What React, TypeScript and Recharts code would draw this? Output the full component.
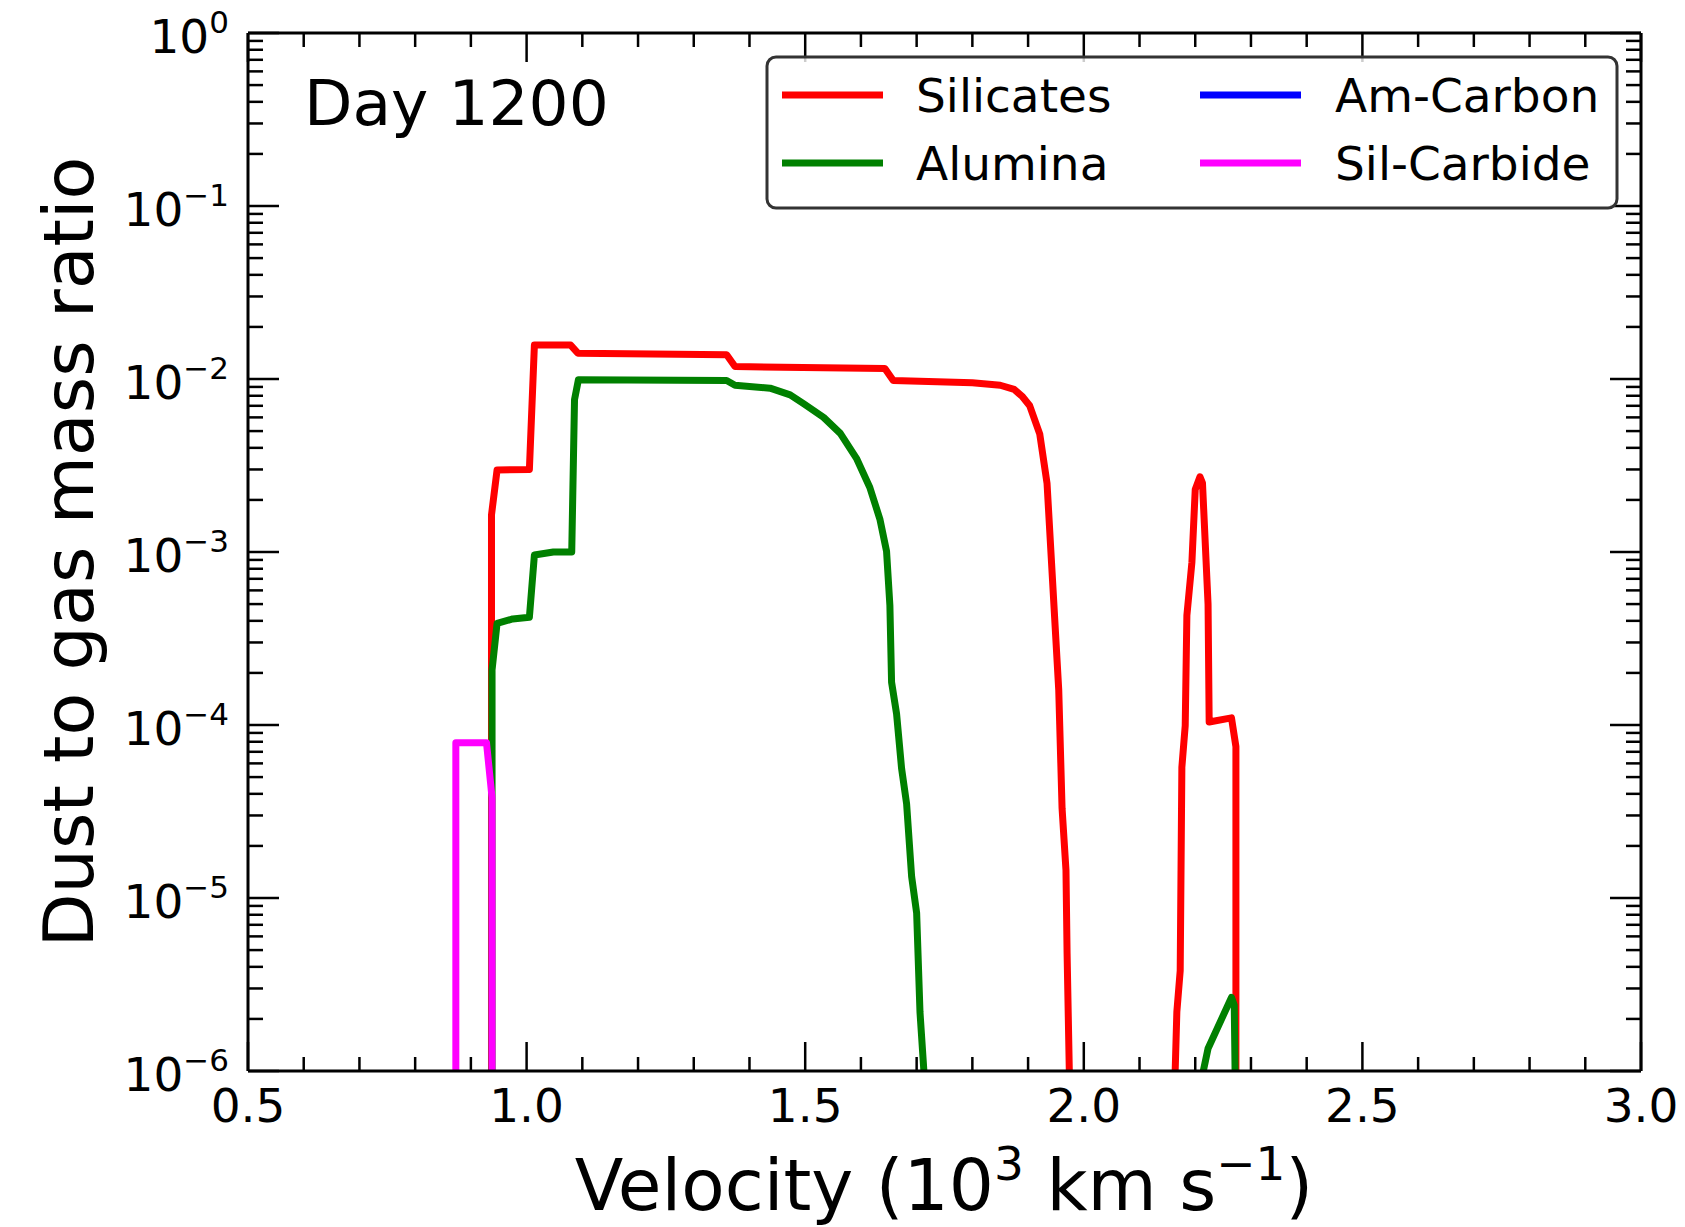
import React from "react";
import { LineChart, Line, XAxis, YAxis } from "recharts";

type Pt = { v: number; d: number | null };

const pts = (rows: [number, number | null][]): Pt[] => rows.map(([v, d]) => ({ v, d }));

// velocity (10^3 km/s) vs dust-to-gas mass ratio
const silicates = pts([
  [0.937, 1e-6], [0.937, 1.64e-3], [0.947, 2.98e-3], [1.005, 3.0e-3], [1.014, 1.57e-2],
  [1.079, 1.57e-2], [1.092, 1.41e-2], [1.359, 1.38e-2], [1.374, 1.18e-2], [1.643, 1.15e-2],
  [1.658, 9.8e-3], [1.8, 9.5e-3], [1.85, 9.2e-3], [1.875, 8.7e-3], [1.89, 7.9e-3],
  [1.903, 7.0e-3], [1.921, 4.8e-3], [1.934, 2.5e-3], [1.955, 1.6e-4],
  [1.961, 3.3e-5], [1.968, 1.45e-5], [1.97, 4.8e-6], [1.974, 1e-6],
  [2.07, null],
  [2.164, 1e-6], [2.167, 2.2e-6], [2.173, 3.8e-6], [2.176, 5.7e-5], [2.182, 9.9e-5],
  [2.185, 4.3e-4], [2.194, 8.7e-4], [2.2, 2.3e-3], [2.2085, 2.72e-3], [2.213, 2.5e-3],
  [2.223, 5.0e-4], [2.225, 1.04e-4], [2.265, 1.1e-4], [2.273, 7.5e-5], [2.273, 1e-6],
]);

const alumina = pts([
  [0.938, 1e-6], [0.938, 2.08e-4], [0.947, 3.87e-4], [0.975, 4.1e-4], [1.005, 4.2e-4],
  [1.014, 9.6e-4], [1.048, 1.0e-3], [1.081, 1.0e-3], [1.086, 7.6e-3], [1.093, 9.9e-3],
  [1.359, 9.8e-3], [1.374, 9.2e-3], [1.437, 8.85e-3], [1.473, 8.1e-3], [1.497, 7.2e-3],
  [1.533, 6.0e-3], [1.563, 4.85e-3], [1.592, 3.48e-3], [1.616, 2.36e-3], [1.634, 1.55e-3],
  [1.646, 1.01e-3], [1.652, 4.9e-4], [1.655, 1.77e-4], [1.664, 1.16e-4], [1.673, 5.6e-5],
  [1.682, 3.5e-5], [1.691, 1.33e-5], [1.7, 8.2e-6], [1.706, 2.19e-6], [1.713, 1e-6],
  [2.0, null],
  [2.2145, 1e-6], [2.223, 1.35e-6], [2.265, 2.66e-6], [2.27, 2.4e-6], [2.2715, 1e-6],
]);

const amCarbon: Pt[] = [];

const silCarbide = pts([
  [0.873, 1e-6], [0.873, 7.9e-5], [0.928, 7.9e-5], [0.938, 3.8e-5], [0.938, 1e-6],
]);

const series = [
  { name: "Silicates", color: "#ff0000", data: silicates },
  { name: "Alumina", color: "#008000", data: alumina },
  { name: "Am-Carbon", color: "#0000ff", data: amCarbon },
  { name: "Sil-Carbide", color: "#ff00ff", data: silCarbide },
];

const xMajorTicks = [0.5, 1.0, 1.5, 2.0, 2.5, 3.0];
const xMinorTicks = [
  0.6, 0.7, 0.8, 0.9, 1.1, 1.2, 1.3, 1.4, 1.6, 1.7, 1.8, 1.9,
  2.1, 2.2, 2.3, 2.4, 2.6, 2.7, 2.8, 2.9,
];
const yMajorTicks = [1e-6, 1e-5, 1e-4, 1e-3, 1e-2, 1e-1, 1];
const yMinorSteps = [2, 3, 4, 5, 6, 7, 8, 9];
const yMinorTicks = yMajorTicks.slice(0, -1).flatMap((b) => yMinorSteps.map((m) => b * m));

const xTicks = [...xMajorTicks, ...xMinorTicks].sort((a, b) => a - b);
const yTicks = [...yMajorTicks, ...yMinorTicks].sort((a, b) => a - b);

const FONT = "'DejaVu Sans', sans-serif";
const W = 1685;
const H = 1227;
const LW = 7;

const isMajorX = (v: number) => xMajorTicks.some((t) => Math.abs(t - v) < 1e-9);
const isMajorY = (v: number) => yMajorTicks.some((t) => Math.abs(t - v) / t < 1e-6);

// ticks point into the plot, like matplotlib direction="in"
const XTick = (props: any) => {
  const { x, y, payload, side } = props;
  const major = isMajorX(payload.value);
  const len = major ? 29 : 14;
  const dir = side === "top" ? 1 : -1;
  return (
    <g>
      <line x1={x} x2={x} y1={y} y2={y + dir * len} stroke="#000" strokeWidth={2.5} />
      {side === "bottom" && major && (
        <text x={x} y={y + 51} textAnchor="middle" fontSize={47} fontFamily={FONT} fill="#000">
          {payload.value.toFixed(1)}
        </text>
      )}
    </g>
  );
};

const YTick = (props: any) => {
  const { x, y, payload, side } = props;
  const major = isMajorY(payload.value);
  const len = major ? 31 : 15;
  const dir = side === "right" ? -1 : 1;
  const exp = Math.round(Math.log10(payload.value));
  return (
    <g>
      <line x1={x} x2={x + dir * len} y1={y} y2={y} stroke="#000" strokeWidth={2.5} />
      {side === "left" && major && (
        <text x={x - 19} y={y + 20} textAnchor="end" fontSize={47} fontFamily={FONT} fill="#000">
          <tspan>10</tspan>
          <tspan dy={-20} fontSize={31}>
            {exp < 0 ? "\u2212" + Math.abs(exp) : String(exp)}
          </tspan>
        </text>
      )}
    </g>
  );
};

export default function App() {
  return (
    <div style={{ position: "absolute", left: 0, top: 0, width: W, height: H, background: "#fff" }}>
      <LineChart width={W} height={H} margin={{ top: 23, right: 34, bottom: 116, left: 208 }}>
        <XAxis
          xAxisId="b"
          type="number"
          dataKey="v"
          domain={[0.5, 3]}
          allowDataOverflow
          ticks={xTicks}
          interval={0}
          height={40}
          tickSize={0}
          tickMargin={0}
          tickLine={false}
          axisLine={{ stroke: "#000", strokeWidth: 3 }}
          tick={<XTick side="bottom" />}
        />
        <XAxis
          xAxisId="t"
          orientation="top"
          type="number"
          dataKey="v"
          domain={[0.5, 3]}
          allowDataOverflow
          ticks={xTicks}
          interval={0}
          height={10}
          tickSize={0}
          tickMargin={0}
          tickLine={false}
          axisLine={{ stroke: "#000", strokeWidth: 3 }}
          tick={<XTick side="top" />}
        />
        <YAxis
          yAxisId="l"
          scale="log"
          type="number"
          domain={[1e-6, 1]}
          allowDataOverflow
          ticks={yTicks}
          interval={0}
          width={40}
          tickSize={0}
          tickMargin={0}
          tickLine={false}
          axisLine={{ stroke: "#000", strokeWidth: 3 }}
          tick={<YTick side="left" />}
        />
        <YAxis
          yAxisId="r"
          orientation="right"
          scale="log"
          type="number"
          domain={[1e-6, 1]}
          allowDataOverflow
          ticks={yTicks}
          interval={0}
          width={10}
          tickSize={0}
          tickMargin={0}
          tickLine={false}
          axisLine={{ stroke: "#000", strokeWidth: 3 }}
          tick={<YTick side="right" />}
        />
        {series.map((s) => (
          <Line
            key={s.name}
            name={s.name}
            data={s.data}
            dataKey="d"
            xAxisId="b"
            yAxisId="l"
            type="linear"
            stroke={s.color}
            strokeWidth={LW}
            strokeLinejoin="round"
            dot={false}
            activeDot={false}
            connectNulls={false}
            isAnimationActive={false}
          />
        ))}
      </LineChart>

      {/* labels, annotation and legend laid over the chart */}
      <svg
        width={W}
        height={H}
        style={{ position: "absolute", left: 0, top: 0, pointerEvents: "none" }}
        fontFamily={FONT}
      >
        <text x={304} y={125} fontSize={63} fill="#000">
          Day 1200
        </text>
        <text x={944} y={1210} textAnchor="middle" fontSize={71} fill="#000" style={{ whiteSpace: "pre" }}>
          <tspan>Velocity (10</tspan>
          <tspan dy={-30} fontSize={47}>3</tspan>
          <tspan dy={30}>{" km s"}</tspan>
          <tspan dy={-30} fontSize={47}>{"\u22121"}</tspan>
          <tspan dy={30}>)</tspan>
        </text>
        <text
          transform="translate(93,552) rotate(-90)"
          textAnchor="middle"
          fontSize={70}
          fill="#000"
        >
          Dust to gas mass ratio
        </text>

        <rect x={767} y={57} width={850} height={151} rx={9} fill="#fff" fillOpacity={0.8} stroke="#333" strokeWidth={3} />
        {series.map((s, i) => {
          const col = Math.floor(i / 2);
          const row = i % 2;
          const lx = col === 0 ? 782 : 1200;
          const tx = col === 0 ? 916 : 1335;
          const cy = row === 0 ? 95 : 163;
          return (
            <g key={s.name}>
              <line x1={lx} x2={lx + 101} y1={cy} y2={cy} stroke={s.color} strokeWidth={LW} />
              <text x={tx} y={cy + 17} fontSize={47} fill="#000">
                {s.name}
              </text>
            </g>
          );
        })}
      </svg>
    </div>
  );
}
